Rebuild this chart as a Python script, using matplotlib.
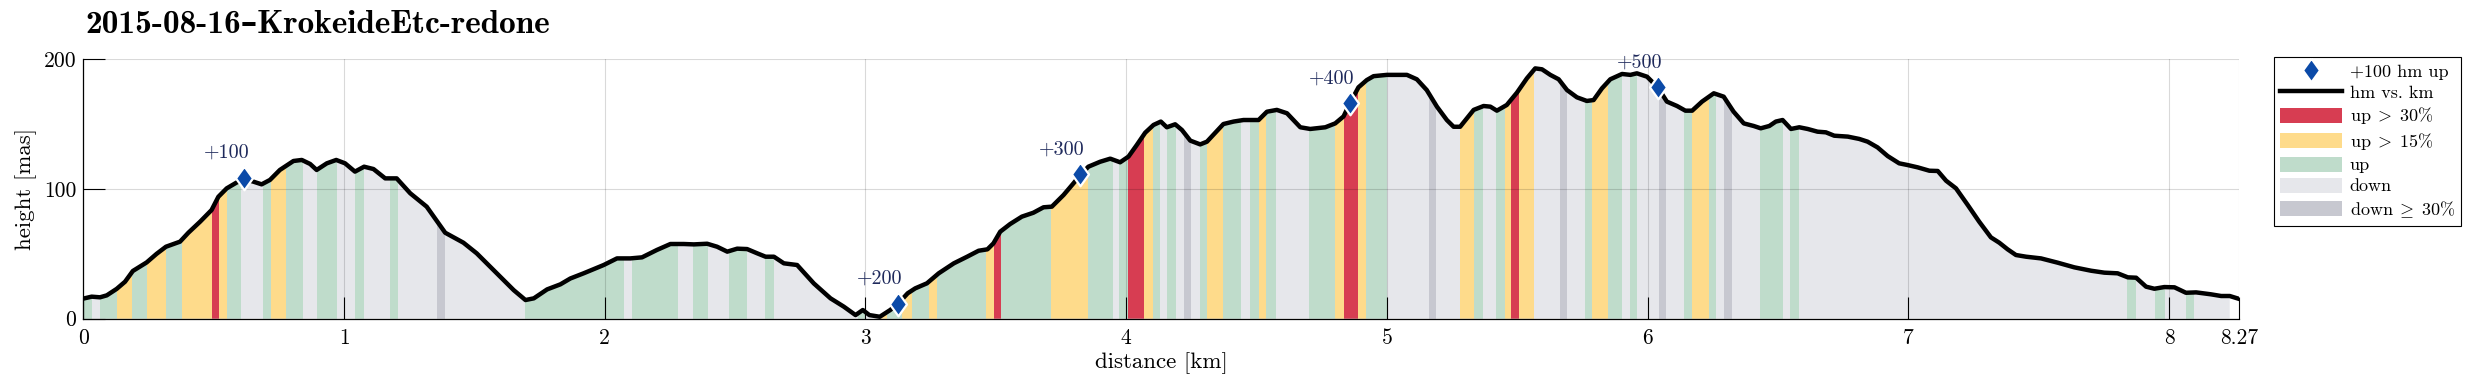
"""
Elevation profile of a hike, coloured by slope of each stretch.
"""

import matplotlib
matplotlib.use("Agg")
import matplotlib.pyplot as plt
from matplotlib.lines import Line2D
from matplotlib.patches import Patch, Polygon

plt.rcParams["font.family"] = ["cmr10", "DejaVu Serif"]
plt.rcParams["mathtext.fontset"] = "cm"
plt.rcParams["axes.formatter.use_mathtext"] = True

# profile (km, metres above sea level)
dist_km = [
    0.000, 0.032, 0.064, 0.090, 0.128, 0.160, 0.190, 0.243, 0.281, 0.317,
    0.371, 0.403, 0.448, 0.492, 0.518, 0.550, 0.588, 0.618, 0.652, 0.684,
    0.716, 0.754, 0.806, 0.838, 0.870, 0.895, 0.934, 0.970, 1.004, 1.042,
    1.077, 1.113, 1.158, 1.202, 1.254, 1.317, 1.388, 1.458, 1.509, 1.561,
    1.612, 1.651, 1.696, 1.728, 1.779, 1.830, 1.868, 1.919, 1.996, 2.047,
    2.098, 2.143, 2.200, 2.252, 2.303, 2.342, 2.393, 2.431, 2.470, 2.508,
    2.546, 2.585, 2.617, 2.649, 2.687, 2.738, 2.802, 2.866, 2.917, 2.962,
    2.990, 3.015, 3.055, 3.095, 3.124, 3.162, 3.191, 3.236, 3.281, 3.339,
    3.390, 3.434, 3.468, 3.491, 3.517, 3.555, 3.600, 3.644, 3.683, 3.715,
    3.760, 3.798, 3.823, 3.855, 3.900, 3.939, 3.977, 4.009, 4.041, 4.073,
    4.105, 4.133, 4.156, 4.188, 4.214, 4.246, 4.284, 4.310, 4.342, 4.373,
    4.412, 4.450, 4.508, 4.540, 4.578, 4.617, 4.668, 4.706, 4.764, 4.802,
    4.834, 4.858, 4.891, 4.923, 4.949, 5.000, 5.077, 5.115, 5.153, 5.192,
    5.230, 5.256, 5.281, 5.307, 5.333, 5.371, 5.397, 5.422, 5.460, 5.499,
    5.537, 5.569, 5.595, 5.627, 5.659, 5.691, 5.729, 5.767, 5.793, 5.825,
    5.857, 5.902, 5.934, 5.959, 5.998, 6.039, 6.074, 6.113, 6.145, 6.171,
    6.209, 6.254, 6.292, 6.330, 6.369, 6.407, 6.434, 6.467, 6.492, 6.518,
    6.550, 6.582, 6.614, 6.652, 6.684, 6.716, 6.768, 6.812, 6.844, 6.882,
    6.921, 6.965, 6.997, 7.036, 7.081, 7.113, 7.145, 7.183, 7.228, 7.272,
    7.317, 7.349, 7.381, 7.413, 7.452, 7.509, 7.573, 7.637, 7.701, 7.752,
    7.803, 7.842, 7.874, 7.912, 7.944, 7.982, 8.021, 8.065, 8.104, 8.161,
    8.200, 8.233, 8.270,
]
height_m = [
    15.5, 17.0, 16.5, 18.0, 23.0, 28.5, 36.8, 43.4, 50.0, 55.5,
    59.4, 66.3, 74.8, 83.8, 94.0, 100.5, 105.0, 107.5, 105.7, 103.6,
    107.0, 114.7, 121.6, 122.4, 119.3, 114.7, 119.8, 122.4, 119.8, 113.4,
    117.2, 115.4, 108.2, 108.2, 96.7, 86.4, 66.3, 58.6, 50.4, 40.0,
    29.8, 22.0, 14.4, 15.7, 22.6, 26.5, 31.0, 35.0, 41.4, 46.5,
    46.5, 47.3, 53.0, 57.6, 57.6, 57.3, 57.8, 55.5, 51.7, 54.0,
    53.7, 50.4, 47.8, 47.8, 42.7, 41.4, 27.2, 15.7, 9.3, 2.8,
    6.7, 2.8, 1.5, 6.7, 11.3, 19.6, 23.4, 27.3, 35.0, 42.7,
    47.8, 52.4, 53.5, 58.1, 67.1, 73.0, 78.7, 81.7, 85.9, 86.4,
    95.4, 104.4, 110.5, 117.2, 121.0, 123.4, 120.6, 125.0, 134.0, 143.4,
    149.4, 152.0, 147.6, 149.9, 145.5, 137.3, 134.4, 136.5, 143.4, 150.1,
    152.0, 153.2, 153.2, 159.6, 161.0, 158.4, 147.6, 146.3, 147.6, 150.6,
    156.0, 166.0, 178.4, 184.0, 187.0, 188.0, 188.0, 184.6, 176.3, 163.5,
    153.2, 148.0, 148.0, 154.5, 161.0, 164.0, 163.5, 160.4, 164.8, 174.3,
    185.3, 193.0, 192.3, 188.0, 184.6, 176.3, 170.7, 167.9, 168.6, 177.6,
    184.6, 188.7, 188.0, 189.2, 186.6, 178.4, 167.4, 164.0, 160.4, 160.4,
    167.4, 173.8, 171.2, 159.6, 150.6, 148.6, 146.8, 148.6, 152.0, 153.2,
    146.3, 147.6, 146.3, 144.2, 143.7, 141.1, 140.4, 138.6, 136.5, 132.1,
    125.4, 119.8, 118.5, 116.7, 114.1, 113.9, 106.4, 100.5, 87.7, 74.8,
    62.7, 58.6, 53.5, 49.1, 47.8, 46.5, 43.2, 39.6, 37.0, 35.5,
    35.0, 31.9, 31.6, 24.7, 23.1, 24.4, 24.2, 20.0, 20.3, 18.8,
    17.5, 17.5, 15.2,
]

# stretches that are not plain "down": start km, end km, slope class
strip_start = [
    0.000, 0.064, 0.128, 0.185, 0.243, 0.317, 0.377, 0.495, 0.521, 0.550,
    0.688, 0.720, 0.778, 0.895, 1.042, 1.177, 1.356, 1.693, 2.105, 2.338,
    2.475, 2.613, 2.973, 3.057, 3.083, 3.140, 3.178, 3.243, 3.275, 3.463,
    3.493, 3.520, 3.711, 3.853, 3.974, 4.008, 4.069, 4.102, 4.156, 4.220,
    4.284, 4.312, 4.373, 4.476, 4.510, 4.537, 4.703, 4.802, 4.836, 4.891,
    4.921, 5.162, 5.281, 5.335, 5.420, 5.452, 5.477, 5.505, 5.663, 5.759,
    5.787, 5.848, 5.931, 6.045, 6.141, 6.170, 6.234, 6.294, 6.433, 6.547,
    7.839, 7.947, 8.065,
]
strip_end = [
    0.032, 0.128, 0.185, 0.243, 0.317, 0.377, 0.495, 0.521, 0.550, 0.605,
    0.720, 0.778, 0.842, 0.972, 1.078, 1.206, 1.388, 2.075, 2.281, 2.398,
    2.546, 2.649, 3.000, 3.083, 3.140, 3.178, 3.243, 3.275, 3.463, 3.493,
    3.520, 3.711, 3.853, 3.948, 4.008, 4.069, 4.102, 4.130, 4.192, 4.248,
    4.312, 4.373, 4.440, 4.510, 4.537, 4.576, 4.802, 4.836, 4.891, 4.921,
    5.000, 5.189, 5.335, 5.367, 5.452, 5.477, 5.505, 5.563, 5.691, 5.787,
    5.848, 5.902, 5.959, 6.072, 6.170, 6.234, 6.264, 6.324, 6.519, 6.579,
    7.875, 7.985, 8.097,
]
strip_class = [
    "up", "up", "up15", "up", "up15", "up", "up15", "up30", "up15", "up",
    "up", "up15", "up", "up", "up", "up", "down30", "up", "up", "up",
    "up", "up", "up", "up15", "up", "up15", "up", "up15", "up", "up15",
    "up30", "up", "up15", "up", "up", "up30", "up15", "up", "up", "down30",
    "up", "up15", "up", "up", "up15", "up", "up", "up15", "up30", "up15",
    "up", "down30", "up15", "up", "up", "up15", "up30", "up15", "down30", "up",
    "up15", "up", "up", "down30", "up", "up15", "up", "down30", "up", "up",
    "up", "up", "up",
]

# every +100 m of accumulated climb
gain_m = [100, 200, 300, 400, 500]
gain_km = [0.618, 3.124, 3.823, 4.858, 6.039]
gain_h = [108.7, 11.3, 111.3, 166.0, 178.4]

x_ticks = [0, 1, 2, 3, 4, 5, 6, 7, 8, 8.27]
x_tick_labels = ["0", "1", "2", "3", "4", "5", "6", "7", "8", "8.27"]

colours = {
    "up30": "#d73d52",
    "up15": "#fedb8b",
    "up": "#bfdccb",
    "down": "#e6e7eb",
    "down30": "#c7c8d0",
}
marker_blue = "#0b4aa8"
label_navy = "#1f2a5c"
# diamond a bit wider than matplotlib's thin 'd'
diamond = [(0, 1), (0.72, 0), (0, -1), (-0.72, 0), (0, 1)]

fig = plt.figure(figsize=(24.75, 3.91), dpi=100)
ax = fig.add_axes([0.03366, 0.1849, 0.87114, 0.6634])

# area under the profile (last stretch is left unfilled)
verts = [(dist_km[0], 0)] + list(zip(dist_km[:-1], height_m[:-1])) + [(dist_km[-2], 0)]
under = Polygon(verts, closed=True, facecolor=colours["down"], edgecolor="none", zorder=1)
ax.add_patch(under)

for a, b, c in zip(strip_start, strip_end, strip_class):
    span = ax.axvspan(a, b, facecolor=colours[c], edgecolor="none", zorder=1.1)
    span.set_clip_path(under)

ax.plot(dist_km, height_m, color="black", linewidth=3.2, zorder=3, solid_joinstyle="round")

ax.plot(gain_km, gain_h, linestyle="none", marker=diamond, markersize=17,
        markerfacecolor=marker_blue, markeredgecolor="white", markeredgewidth=1.6, zorder=4)
for g, x, y in zip(gain_m, gain_km, gain_h):
    ax.annotate(f"+{g}", (x, y), xytext=(5, 20), textcoords="offset pixels",
                ha="right", va="baseline", color=label_navy, fontsize=14.5, zorder=5)

ax.set_xlim(0, 8.27)
ax.set_ylim(0, 200)
ax.set_xticks(x_ticks)
ax.set_xticklabels(x_tick_labels)
ax.set_yticks([0, 100, 200])
ax.set_yticklabels(["0", "100", "200"])

ax.set_axisbelow(False)
ax.grid(True, color="black", alpha=0.15, linewidth=0.8)
ax.spines["top"].set_visible(False)
ax.spines["right"].set_visible(False)
for s in ("left", "bottom"):
    ax.spines[s].set_linewidth(0.9)
ax.tick_params(direction="in", length=15.5, width=0.8, labelsize=15.5, top=False, right=False)
ax.tick_params(axis="x", pad=7)
ax.tick_params(axis="y", pad=5)

ax.set_xlabel("distance [km]", fontsize=16.5, labelpad=3)
ax.set_ylabel("height [mas]", fontsize=16.5, labelpad=5)

fig.text(0.0344, 0.915, "2015-08-16–KrokeideEtc-redone", fontsize=24,
         fontweight="bold", family=["cmb10", "DejaVu Serif"], va="baseline", ha="left")

handles = [
    Line2D([], [], linestyle="none", marker=diamond, markersize=17,
           markerfacecolor=marker_blue, markeredgecolor="white", markeredgewidth=1.6),
    Line2D([], [], color="black", linewidth=3.2),
    Patch(facecolor=colours["up30"], edgecolor="none"),
    Patch(facecolor=colours["up15"], edgecolor="none"),
    Patch(facecolor=colours["up"], edgecolor="none"),
    Patch(facecolor=colours["down"], edgecolor="none"),
    Patch(facecolor=colours["down30"], edgecolor="none"),
]
labels = [
    "+100 hm up",
    "hm vs. km",
    r"up$\;>\;$30%",
    r"up$\;>\;$15%",
    "up",
    "down",
    r"down$\;\geq\;$30%",
]
leg = fig.legend(handles, labels, loc="upper left",
                 bbox_to_anchor=(2274 / 2475, 1 - 56.7 / 391),
                 bbox_transform=fig.transFigure, frameon=True, fancybox=False,
                 edgecolor="black", fontsize=13, handlelength=3.4, handleheight=0.9,
                 handletextpad=0.45, labelspacing=0.25, borderpad=0.35,
                 borderaxespad=0)
leg.get_frame().set_linewidth(0.8)
leg.get_frame().set_alpha(1)

fig.savefig("out.png", dpi=100)
plt.close(fig)
